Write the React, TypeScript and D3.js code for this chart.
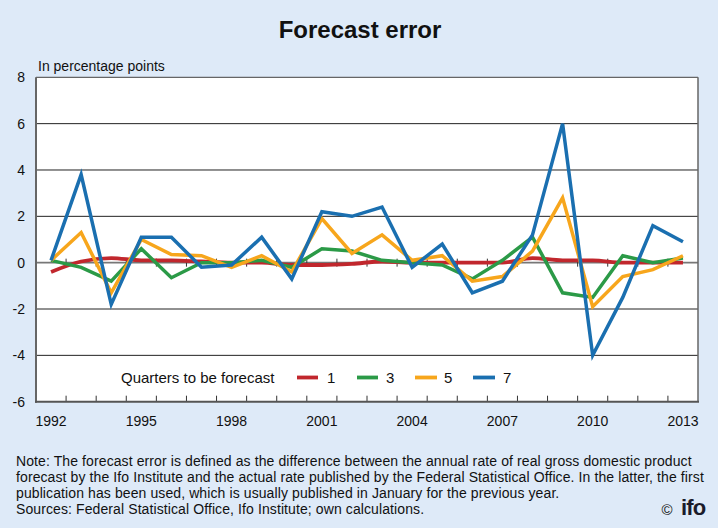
import React from "react";
import * as d3 from "d3";

const years = [1992, 1993, 1994, 1995, 1996, 1997, 1998, 1999, 2000, 2001, 2002, 2003, 2004, 2005, 2006, 2007, 2008, 2009, 2010, 2011, 2012, 2013];
const q1 = [-0.4, 0.05, 0.2, 0.1, 0.1, 0.05, 0.0, 0.0, -0.1, -0.1, -0.05, 0.05, 0.0, 0.0, 0.0, 0.0, 0.2, 0.1, 0.1, 0.0, 0.0, 0.0];
const q3 = [0.1, -0.2, -0.8, 0.6, -0.65, 0.0, 0.0, 0.1, -0.2, 0.6, 0.5, 0.1, 0.0, -0.1, -0.7, 0.1, 1.1, -1.3, -1.5, 0.3, 0.0, 0.2];
const q5 = [0.1, 1.3, -1.3, 1.0, 0.35, 0.3, -0.2, 0.3, -0.4, 1.9, 0.4, 1.2, 0.1, 0.3, -0.8, -0.6, 0.5, 2.8, -1.9, -0.6, -0.3, 0.3];
const q7 = [0.1, 3.8, -1.8, 1.1, 1.1, -0.2, -0.1, 1.1, -0.7, 2.2, 2.0, 2.4, -0.2, 0.8, -1.3, -0.8, 1.2, 6.0, -4.0, -1.5, 1.6, 0.9];
const seriesNames = ["1", "3", "5", "7"];
const seriesColors = ["#c1272d", "#2b9a47", "#f7a61c", "#1a6fb0"];
const yTicks = [-6, -4, -2, 0, 2, 4, 6, 8];
const xLabelYears = [1992, 1995, 1998, 2001, 2004, 2007, 2010, 2013];
const title = "Forecast error";
const unitLabel = "In percentage points";
const legendTitle = "Quarters to be forecast";
const noteLines = [
  "Note: The forecast error is defined as the difference between the annual rate of real gross domestic product",
  "forecast by the Ifo Institute and the actual rate published by the Federal Statistical Office. In the latter, the first",
  "publication has been used, which is usually published in January for the previous year.",
  "Sources: Federal Statistical Office, Ifo Institute; own calculations.",
];

const W = 718;
const H = 528;
const L = 36, R = 698, T = 77.3, B = 401.7;
const FONT = "'Liberation Sans', Arial, sans-serif";

export default function App() {
  const series = [q1, q3, q5, q7];
  const x = d3.scaleBand<number>().domain(years).range([L, R]).padding(0);
  const y = d3.scaleLinear().domain([-6, 8]).range([B, T]);
  const cx = (yr: number) => (x(yr) as number) + x.bandwidth() / 2;
  const boundaries = years.slice(1).map((yr) => x(yr) as number);

  const legendItems = [
    { x0: 297, x1: 318, tx: 327 },
    { x0: 357, x1: 378, tx: 386 },
    { x0: 415, x1: 437, tx: 444 },
    { x0: 473, x1: 495, tx: 503 },
  ];
  const legendY = 377.5;

  return (
    <svg width={W} height={H} style={{ position: "absolute", left: 0, top: 0, display: "block" }} fontFamily={FONT}>
      <rect x={0} y={0} width={W} height={H} fill="#deeaf8" />
      <text x={360} y={38} textAnchor="middle" fontSize={24} fontWeight="bold" fill="#111">{title}</text>
      <text x={38} y={71} fontSize={14} fill="#111">{unitLabel}</text>
      <rect x={L} y={T} width={R - L} height={B - T} fill="#fff" />
      {yTicks.filter((t) => t !== 8 && t !== -6).map((t) => (
        <line key={t} x1={L} x2={R} y1={y(t)} y2={y(t)} stroke={t === 0 ? "#777" : "#222"} strokeWidth={t === 0 ? 1.6 : 1} />
      ))}
      {boundaries.map((bx, i) => (
        <line key={"zt" + i} x1={bx} x2={bx} y1={y(0) - 4} y2={y(0) + 4} stroke="#333" strokeWidth={1} />
      ))}
      {boundaries.map((bx, i) => (
        <line key={"bt" + i} x1={bx} x2={bx} y1={B - 6} y2={B} stroke="#333" strokeWidth={1} />
      ))}
      <line x1={L} x2={R} y1={T} y2={T} stroke="#666" strokeWidth={1.2} />
      <line x1={R} x2={R} y1={T} y2={B} stroke="#666" strokeWidth={1.5} />
      <line x1={L} x2={L} y1={T} y2={B + 1} stroke="#666" strokeWidth={2} />
      <line x1={L - 1} x2={R + 1} y1={B} y2={B} stroke="#555" strokeWidth={2} />
      {yTicks.map((t) => (
        <text key={"yl" + t} x={25} y={y(t)} dy="0.35em" textAnchor="end" fontSize={14} fill="#111">{t}</text>
      ))}
      {xLabelYears.map((yr) => (
        <text key={"xl" + yr} x={cx(yr)} y={426} textAnchor="middle" fontSize={14} fill="#111">{yr}</text>
      ))}
      {series.map((vals, si) => {
        const line = d3
          .line<number>()
          .x((_, i) => cx(years[i]))
          .y((v) => y(v))
          .curve(si === 0 ? d3.curveMonotoneX : d3.curveLinear);
        return (
          <path key={"s" + si} d={line(vals) || ""} fill="none" stroke={seriesColors[si]} strokeWidth={si === 0 ? 3.8 : 3.5} strokeLinejoin="miter" strokeLinecap="butt" />
        );
      })}
      <text x={121} y={legendY} dy="0.35em" fontSize={15} fill="#111">{legendTitle}</text>
      {legendItems.map((it, i) => (
        <g key={"lg" + i}>
          <line x1={it.x0} x2={it.x1} y1={legendY} y2={legendY} stroke={seriesColors[i]} strokeWidth={3.8} />
          <text x={it.tx} y={legendY} dy="0.35em" fontSize={15} fill="#111">{seriesNames[i]}</text>
        </g>
      ))}
      {noteLines.map((ln, i) => (
        <text key={"n" + i} x={16} y={466 + i * 16} fontSize={14} letterSpacing={0.1} fill="#111">{ln}</text>
      ))}
      <text x={667} y={515} textAnchor="middle" fontSize={15} fill="#111">©</text>
      <text x={681} y={515} fontSize={22} fontWeight="bold" letterSpacing={-0.8} fill="#1b1b2b">ifo</text>
    </svg>
  );
}
